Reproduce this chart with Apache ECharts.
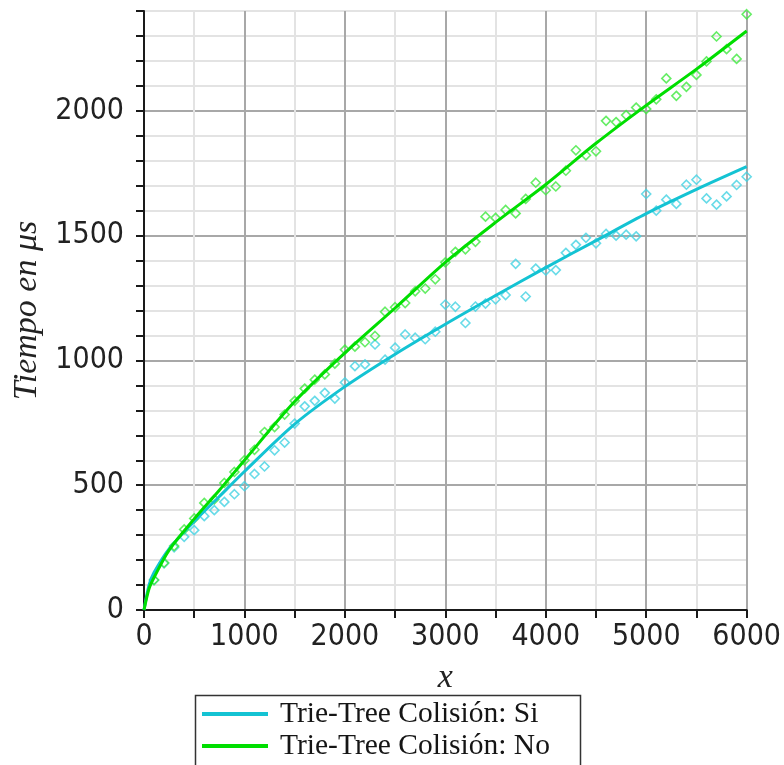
<!DOCTYPE html>
<html>
<head>
<meta charset="utf-8">
<script src="https://cdn.jsdelivr.net/npm/echarts@6/dist/echarts.min.js"></script>
<style>html,body{margin:0;padding:0;background:#fff;}#c{width:784px;height:765px;}</style>
</head>
<body>
<div id="c"></div>
<script>
// x positions of the fitted curves
const lineX = [0, 50, 100, 250, 500, 750, 1000, 1500, 2000, 2500, 3000, 3500, 4000, 4500, 5000, 5500, 6000];
// fitted curve, Colisión: Si
const siLine = [0, 100, 150, 245, 355, 455, 555, 745, 895, 1025, 1145, 1260, 1372, 1480, 1588, 1685, 1776];
// fitted curve, Colisión: No
const noLine = [0, 85, 130, 240, 365, 480, 600, 835, 1030, 1210, 1393, 1553, 1705, 1870, 2022, 2167, 2320];

// measured x positions
const scatX = [100,200,300,400,500,600,700,800,900,1000,
  1100,1200,1300,1400,1500,1600,1700,1800,1900,2000,
  2100,2200,2300,2400,2500,2600,2700,2800,2900,3000,
  3100,3200,3300,3400,3500,3600,3700,3800,3900,4000,
  4100,4200,4300,4400,4500,4600,4700,4800,4900,5000,
  5100,5200,5300,5400,5500,5600,5700,5800,5900,6000];
// measured times, Colisión: Si
const siPts = [120,187,251,293,320,376,400,433,464,496,
  545,575,640,671,747,816,838,870,847,912,
  977,984,1064,1003,1051,1104,1091,1085,1115,1224,
  1215,1150,1216,1228,1245,1262,1387,1256,1368,1360,
  1362,1431,1463,1491,1469,1507,1500,1504,1497,1667,
  1600,1644,1627,1704,1724,1649,1624,1657,1703,1736];
// measured times, Colisión: No
const noPts = [120,189,256,323,367,429,443,509,553,600,
  642,713,733,783,838,887,923,944,987,1043,
  1055,1073,1098,1195,1213,1230,1277,1288,1325,1393,
  1435,1445,1475,1576,1571,1603,1589,1647,1712,1682,
  1697,1760,1842,1822,1838,1960,1955,1983,2013,2007,
  2046,2130,2060,2096,2144,2198,2298,2247,2208,2387];

const seriesNames = ['Trie-Tree Colisión: Si', 'Trie-Tree Colisión: No'];
const xName = 'x';
const yName = 'Tiempo en μs';

const pairs = (xs, ys) => xs.map((x, i) => [x, ys[i]]);

const cyanLine = '#14c3d3', greenLine = '#00de00';
const cyanPt = '#42d2e2', greenPt = '#3fe83f';
const labelFont = "'DejaVu Sans Condensed', 'Liberation Sans', sans-serif";

const chart = echarts.init(document.getElementById('c'), null, {renderer: 'canvas'});
chart.setOption({
  animation: false,
  backgroundColor: '#ffffff',
  grid: {left: 144, right: 36, top: 11, bottom: 155, containLabel: false},
  graphic: [{
    type: 'rect', left: 193, top: 693, z: 100, silent: true,
    shape: {width: 385, height: 100},
    style: {fill: 'none', stroke: '#333', lineWidth: 1.5}
  }],
  legend: {
    data: seriesNames,
    orient: 'vertical',
    left: 194, top: 694,
    icon: 'rect',
    itemWidth: 66, itemHeight: 4,
    itemGap: 2,
    padding: [5, 0, 0, 8],
    textStyle: {fontFamily: "'Liberation Serif', serif", fontSize: 29.5, lineHeight: 30, color: '#151515', padding: [0, 0, 0, 7]}
  },
  xAxis: {
    type: 'value', min: 0, max: 6000, interval: 1000,
    name: xName, nameLocation: 'middle', nameGap: 51,
    nameTextStyle: {fontFamily: "'Liberation Serif', serif", fontStyle: 'italic', fontSize: 34, color: '#222'},
    axisLine: {show: true, onZero: false, lineStyle: {color: '#1a1a1a', width: 2}},
    axisTick: {show: true, length: 8, lineStyle: {color: '#1a1a1a', width: 2}},
    minorTick: {show: true, splitNumber: 2, length: 8, lineStyle: {color: '#1a1a1a', width: 2}},
    axisLabel: {margin: 12, fontFamily: labelFont, fontSize: 30, color: '#222', formatter: v => String(v)},
    splitLine: {show: true, lineStyle: {color: '#a8a8a8', width: 2}},
    minorSplitLine: {show: true, lineStyle: {color: '#e3e3e3', width: 2}}
  },
  yAxis: {
    type: 'value', min: 0, max: 2400, interval: 100,
    name: yName, nameLocation: 'middle', nameGap: 100,
    nameTextStyle: {fontFamily: "'Liberation Serif', serif", fontStyle: 'italic', fontSize: 34, color: '#222'},
    axisLine: {show: true, onZero: false, lineStyle: {color: '#1a1a1a', width: 2}},
    axisTick: {show: true, length: 8, lineStyle: {color: '#1a1a1a', width: 2}},
    axisLabel: {margin: 20, fontFamily: labelFont, fontSize: 30, color: '#222',
      formatter: v => (v % 500 === 0 ? String(v) : '')},
    splitLine: {show: true, lineStyle: {color: ['#a8a8a8', '#e3e3e3', '#e3e3e3', '#e3e3e3', '#e3e3e3'], width: 2}}
  },
  series: [
    {name: 'pts-si', type: 'scatter', data: pairs(scatX, siPts), symbol: 'diamond', symbolSize: 9, z: 2,
     itemStyle: {color: 'rgba(0,0,0,0)', borderColor: cyanPt, borderWidth: 1.6}},
    {name: 'pts-no', type: 'scatter', data: pairs(scatX, noPts), symbol: 'diamond', symbolSize: 9, z: 2,
     itemStyle: {color: 'rgba(0,0,0,0)', borderColor: greenPt, borderWidth: 1.6}},
    {name: seriesNames[0], type: 'line', data: pairs(lineX, siLine), smooth: 0.3, showSymbol: false, z: 3,
     color: cyanLine, lineStyle: {color: cyanLine, width: 3}},
    {name: seriesNames[1], type: 'line', data: pairs(lineX, noLine), smooth: 0.3, showSymbol: false, z: 4,
     color: greenLine, lineStyle: {color: greenLine, width: 3}}
  ]
});
</script>
</body>
</html>
